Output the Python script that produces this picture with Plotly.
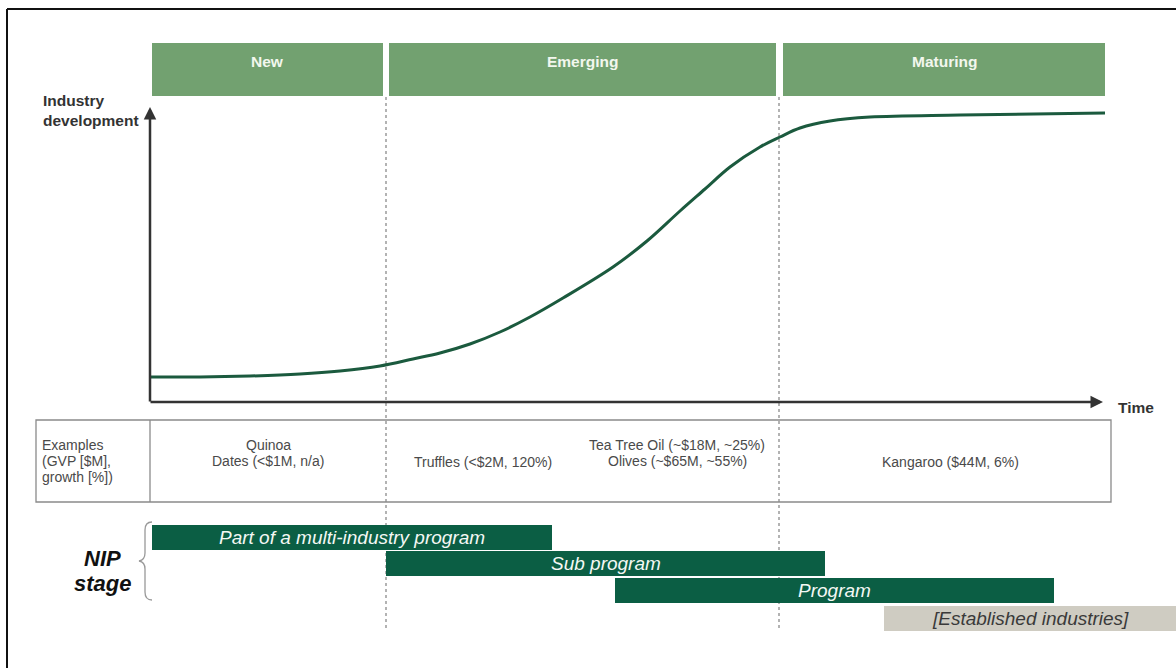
import plotly.graph_objects as go

# ---------------- data ----------------
stage_names = ["New", "Emerging", "Maturing"]
stage_start = [152, 389, 783]
stage_end = [383, 776, 1105]
stage_bounds = [386, 779]

curve_time = [150, 200, 250, 300, 340, 380, 413, 440, 470, 500, 530, 563, 613, 647, 680, 705, 730, 760, 780, 800, 830, 870, 960, 1105]
curve_dev = [377, 377, 376, 374, 371, 366, 359, 353, 344, 332, 317, 298, 267, 241, 211, 189, 167, 147, 137, 128, 121, 117, 115, 113]

examples_label = ["Examples", "(GVP [$M],", "growth [%])"]
example_lines = [
    ["Quinoa", "Dates (<$1M, n/a)"],
    ["Truffles (<$2M, 120%)"],
    ["Tea Tree Oil (~$18M, ~25%)", "Olives (~$65M, ~55%)"],
    ["Kangaroo ($44M, 6%)"],
]
example_x = [268, 483, 677, 950]

nip_labels = ["Part of a multi-industry program", "Sub program", "Program", "[Established industries]"]
nip_start = [152, 386, 615, 884]
nip_end = [552, 825, 1054, 1176]
nip_row = [537, 563, 590, 618]

# ---------------- styles ----------------
HEAD_GREEN = "#72a170"
DARK_GREEN = "#0b5e44"
CURVE_GREEN = "#1b5a3e"
GREY_BAR = "#cfccc2"
FONT = "Liberation Sans, Arial, sans-serif"
TXT = "#4a4a4a"

fig = go.Figure()
shapes = []
annotations = []

# outer frame (top & left)
shapes.append(dict(type="line", x0=7, x1=1180, y0=9, y1=9, line=dict(color="#111", width=2)))
shapes.append(dict(type="line", x0=7, x1=7, y0=9, y1=672, line=dict(color="#111", width=2)))

# header stage bars
for name, s, e in zip(stage_names, stage_start, stage_end):
    shapes.append(dict(type="rect", x0=s, x1=e, y0=43, y1=96, fillcolor=HEAD_GREEN, line=dict(width=0), layer="below"))
    annotations.append(dict(x=(s + e) / 2, y=61, text="<b>%s</b>" % name, showarrow=False,
                            font=dict(family=FONT, size=15.5, color="#f2f7ee"), xanchor="center", yanchor="middle"))

# dashed stage boundaries
for b in stage_bounds:
    shapes.append(dict(type="line", x0=b, x1=b, y0=97, y1=631, line=dict(color="#9a9a9a", width=1.5, dash="dot"), layer="below"))

# examples table
shapes.append(dict(type="rect", x0=36, x1=1111, y0=420, y1=502, line=dict(color="#8a8a8a", width=1.3)))
shapes.append(dict(type="line", x0=150, x1=150, y0=420, y1=502, line=dict(color="#8a8a8a", width=1.3)))

# axes arrows
annotations.append(dict(x=150, y=107, ax=150, ay=403, xref="x", yref="y", axref="x", ayref="y", text="",
                        showarrow=True, arrowhead=2, arrowsize=1, arrowwidth=2.5, arrowcolor="#333"))
annotations.append(dict(x=1103, y=402, ax=149, ay=402, xref="x", yref="y", axref="x", ayref="y", text="",
                        showarrow=True, arrowhead=2, arrowsize=1, arrowwidth=2.5, arrowcolor="#333"))
annotations.append(dict(x=41, y=100, text="<b>Industry</b>", showarrow=False, xanchor="left", yanchor="middle",
                        font=dict(family=FONT, size=15.5, color="#333")))
annotations.append(dict(x=41, y=120, text="<b>development</b>", showarrow=False, xanchor="left", yanchor="middle",
                        font=dict(family=FONT, size=15.5, color="#333")))
annotations.append(dict(x=1116, y=407, text="<b>Time</b>", showarrow=False, xanchor="left", yanchor="middle",
                        font=dict(family=FONT, size=15.5, color="#333")))

# S-curve
fig.add_trace(go.Scatter(x=curve_time, y=curve_dev, mode="lines", line=dict(color=CURVE_GREEN, width=3, shape="spline", smoothing=1.0),
                         hoverinfo="skip", showlegend=False))

# table text
for k, line in enumerate(examples_label):
    annotations.append(dict(x=40, y=445 + 16 * k, text=line, showarrow=False, xanchor="left", yanchor="middle",
                            font=dict(family=FONT, size=14, color=TXT)))
for lines, x in zip(example_lines, example_x):
    y0 = 445 if len(lines) == 2 else 462
    for k, line in enumerate(lines):
        annotations.append(dict(x=x, y=y0 + 16 * k, text=line, showarrow=False, xanchor="center", yanchor="middle",
                                font=dict(family=FONT, size=14, color=TXT)))

# NIP stage bars
for i, (lab, s, e, r) in enumerate(zip(nip_labels, nip_start, nip_end, nip_row)):
    grey = i == 3
    fig.add_trace(go.Bar(x=[e - s], base=[s], y=[r], orientation="h", width=[25],
                         marker=dict(color=GREY_BAR if grey else DARK_GREEN, line=dict(width=0)),
                         hoverinfo="skip", showlegend=False))
    annotations.append(dict(x=(s + e) / 2, y=r, text="<i>%s</i>" % lab, showarrow=False, xanchor="center", yanchor="middle",
                            font=dict(family=FONT, size=19, color="#3a3a3a" if grey else "#f4f8f4")))

# NIP stage label and brace
annotations.append(dict(x=102, y=558, text="<b><i>NIP</i></b>", showarrow=False, xanchor="center", yanchor="middle",
                        font=dict(family=FONT, size=22, color="#111")))
annotations.append(dict(x=102, y=583, text="<b><i>stage</i></b>", showarrow=False, xanchor="center", yanchor="middle",
                        font=dict(family=FONT, size=22, color="#111")))
shapes.append(dict(type="path", path="M 152 522 Q 145 522 145 530 L 145 553 Q 145 560 139 561 Q 145 562 145 569 L 145 592 Q 145 600 152 600",
                   line=dict(color="#999", width=1.3)))

fig.update_layout(
    width=1176, height=668, margin=dict(l=0, r=0, t=0, b=0),
    plot_bgcolor="white", paper_bgcolor="white",
    xaxis=dict(range=[0, 1176], visible=False, fixedrange=True),
    yaxis=dict(range=[668, 0], visible=False, fixedrange=True),
    shapes=shapes, annotations=annotations, barmode="overlay", bargap=0,
)
fig.write_html("out.html")
